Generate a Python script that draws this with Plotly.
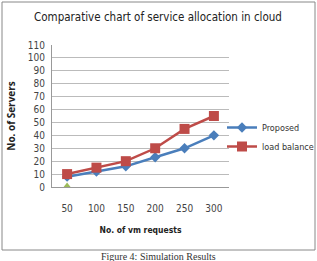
import plotly.graph_objects as go

categories = ["50", "100", "150", "200", "250", "300"]
proposed = [8, 12, 16, 23, 30, 40]
load_balance = [10, 15, 20, 30, 45, 55]
series3_x = ["50"]
series3_y = [0]
y_ticks = list(range(0, 111, 10))

NARROW = "DejaVu Sans Condensed, Open Sans"

fig = go.Figure()
fig.add_trace(go.Scatter(x=categories, y=proposed, name="Proposed", mode="lines+markers",
                         line=dict(color="#4A7EBB", width=2.5),
                         marker=dict(symbol="diamond", size=8, color="#4A7EBB")))
fig.add_trace(go.Scatter(x=categories, y=load_balance, name="load balance", mode="lines+markers",
                         line=dict(color="#BE4B48", width=2.5),
                         marker=dict(symbol="square", size=10, color="#BE4B48")))
fig.add_trace(go.Scatter(x=series3_x, y=series3_y, name="Series 3", mode="markers", showlegend=False,
                         marker=dict(symbol="triangle-up", size=9, color="#9BBB59")))

fig.update_layout(
    width=317, height=261,
    margin=dict(l=52, r=88, t=45, b=74, autoexpand=False),
    paper_bgcolor="white", plot_bgcolor="white",
    title=dict(text="Comparative chart of service allocation in cloud", x=158 / 317, xref="container",
               xanchor="center", y=1 - 17 / 261, yanchor="middle",
               font=dict(family=NARROW, size=11.5, color="#222")),
    font=dict(family=NARROW, size=10, color="#444"),
    legend=dict(x=222 / 317, xref="container", xanchor="left", y=(261 - 137) / 261, yref="container",
                yanchor="middle", bgcolor="rgba(0,0,0,0)",
                font=dict(family=NARROW, size=9, color="#333"), tracegroupgap=8,
                itemwidth=30),
    showlegend=True,
)
fig.update_xaxes(type="category", showgrid=False, showline=True, linecolor="#999", linewidth=1,
                 ticks="outside", ticklen=12, tickcolor="rgba(0,0,0,0)",
                 tickfont=dict(size=10, color="#444"),
                 title=dict(text="<b>No. of vm requests</b>", standoff=14,
                            font=dict(size=8.5, color="#222")))
fig.update_yaxes(range=[0, 110], tickvals=y_ticks, showgrid=True, gridcolor="#BBB", gridwidth=1,
                 showline=True, linecolor="#999", linewidth=1, zeroline=False,
                 ticks="outside", ticklen=4, tickcolor="rgba(0,0,0,0)",
                 tickfont=dict(size=10, color="#444"),
                 title=dict(text="<b>No. of Servers</b>", standoff=10,
                            font=dict(family="Open Sans", size=10, color="#222")))

fig.add_shape(type="rect", xref="paper", yref="paper",
              x0=-50 / 177, x1=(315 - 52) / 177, y0=-(250 - 187) / 142, y1=1 + 43 / 142,
              line=dict(color="#888", width=1), fillcolor="rgba(0,0,0,0)", layer="below")
fig.add_annotation(text="Figure 4: Simulation Results", xref="paper", yref="paper",
                   x=(158 - 52) / 177, y=-(256 - 187) / 142, xanchor="center", yanchor="middle",
                   showarrow=False, font=dict(family="Liberation Serif", size=10, color="#333"))

fig.write_html("out.html")
